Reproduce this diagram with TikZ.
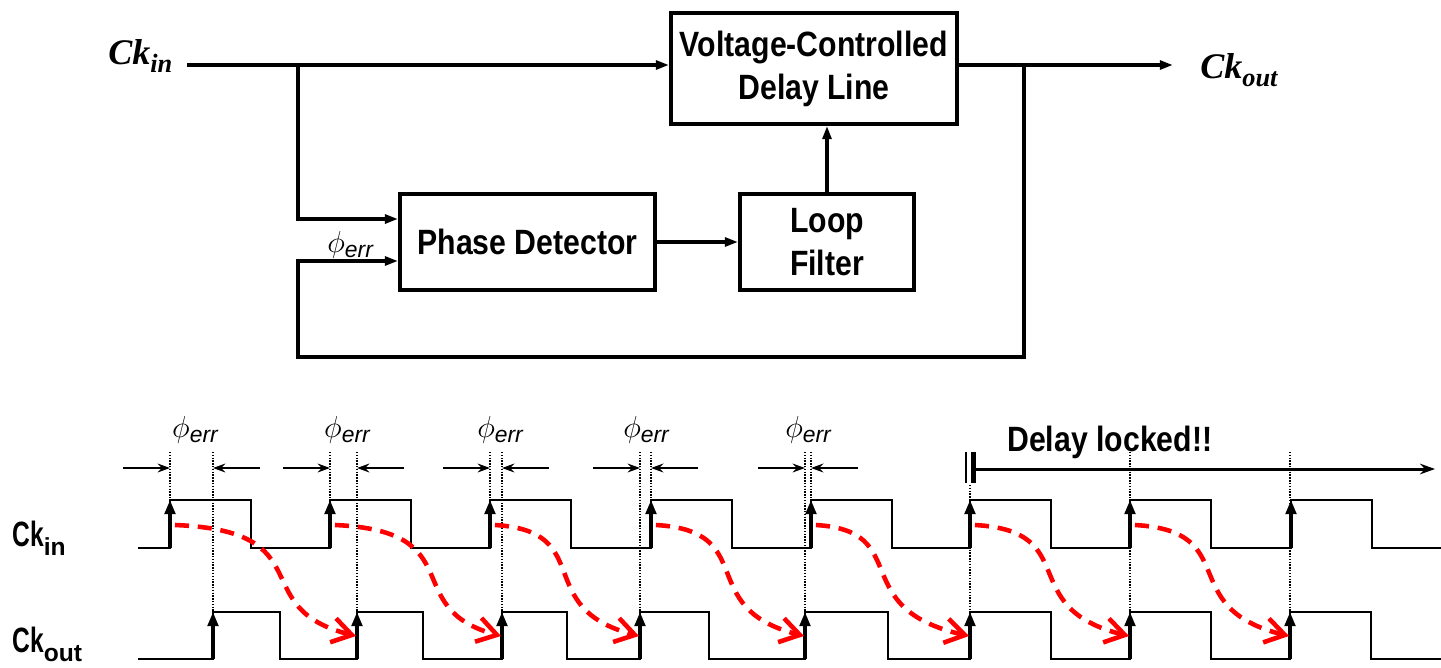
\documentclass[tikz,border=0pt]{standalone}
\usepackage{fontspec}
\usepackage{tikz}
\usetikzlibrary{arrows.meta,positioning,calc}

\newfontfamily\blockfont[FakeStretch=0.86]{Liberation Sans}
\newfontfamily\narrowfont[FakeStretch=0.7]{Liberation Sans}
\newfontfamily\plainsans{Liberation Sans}
\newfontfamily\ckfont{Liberation Serif}

\newcommand{\phierr}{{\fontsize{17.28}{18}\selectfont$\phi$}\raisebox{-3.4pt}{\plainsans\itshape\fontsize{13}{13}\selectfont err}}
\newcommand{\ckserif}[1]{{\ckfont\bfseries\itshape\fontsize{20.5}{22}\selectfont Ck\raisebox{-5pt}{\fontsize{15}{15}\selectfont #1}}}
\newcommand{\cksans}[1]{{\narrowfont\bfseries\fontsize{20}{22}\selectfont Ck\raisebox{-5.5pt}{\plainsans\bfseries\fontsize{14}{14}\selectfont #1}}}

\begin{document}
\begin{tikzpicture}[
    x=0.02cm, y=-0.02cm,
    blk/.style={draw, line width=2.2pt, align=center, inner sep=0pt, font=\blockfont\bfseries\fontsize{20}{24.5}\selectfont},
    arr/.style={-{Triangle[length=7.5pt,width=5pt]}, line width=2pt},
    wave/.style={line width=1.1pt},
    risearr/.style={-{Triangle[length=8pt,width=6pt]}, line width=1.8pt},
    dimarr/.style={-{Stealth[length=7pt,width=5pt]}, line width=1.1pt},
    vguide/.style={line width=0.6pt, dash pattern=on 0.8pt off 0.8pt},
    lagarr/.style={red, line width=2.6pt, dash pattern=on 8pt off 5pt, -{Straight Barb[length=11pt,width=14pt]}},
    lbl/.style={inner sep=0pt}
]
\useasboundingbox (0,0) rectangle (1441,667);

% block diagram
\node[blk, minimum width=5.72cm, minimum height=2.22cm] (vcdl) at (814,68.5) {Voltage-Controlled\\Delay Line};
\node[blk, minimum width=5.1cm, minimum height=1.92cm] (pd) at (527.5,242) {Phase Detector};
\node[blk, minimum width=3.48cm, minimum height=1.92cm] (lf) at (827,242) {Loop\\Filter};

\coordinate (inL) at (187,65);
\coordinate (inJ) at (298,65);
\coordinate (outJ) at (1024,65);
\coordinate (outR) at (1173,65);
\coordinate (fbR) at (1024,357);
\coordinate (fbL) at (298,357);

\node[lbl, anchor=base west] (ckin) at (108,64) {\ckserif{in}};
\node[lbl, anchor=base west] (ckout) at (1200,78) {\ckserif{out}};
\node[lbl, anchor=base west] (perrtop) at (327,252) {\phierr};

\draw[arr] (inL) -- (inL -| vcdl.west);
\draw[arr] (inJ) |- ([yshift=0.46cm]pd.west);
\draw[arr] (vcdl.east |- outR) -- (outR);
\draw[arr] (outJ) -- (fbR) -- (fbL) |- ([yshift=-0.38cm]pd.west);
\draw[arr] (pd.east) -- (lf.west);
\draw[arr] (lf.north) -- (lf.north |- vcdl.south);

% timing diagram
\node[lbl, anchor=base west] (wvin) at (12,546) {\cksans{in}};
\node[lbl, anchor=base west] (wvout) at (12,652) {\cksans{out}};

\draw[wave] (138,548) \foreach \r in {170,330,490,651,811,970,1130,1291}
  { -- (\r,548) -- (\r,500) -- ({\r+81},500) -- ({\r+81},548) } -- (1441,548);
\draw[wave] (138,659) \foreach \r/\f in {213/280,357/423,502/567,640/709,805/888,970/1051,1130/1211,1290/1371}
  { -- (\r,659) -- (\r,612) -- (\f,612) -- (\f,659) } -- (1441,659);

\foreach \r in {170,330,490,651,811,970,1130,1291}
  \draw[risearr] (\r,548) -- (\r,500);
\foreach \r in {213,357,502,640,805,970,1130,1290}
  \draw[risearr] (\r,659) -- (\r,612);

% phase error marks
\foreach \r in {170,330,490,651,811}
  \draw[vguide] (\r,452) -- (\r,500);
\foreach \r in {213,357,502,640,805,1130,1290}
  \draw[vguide] (\r,452) -- (\r,612);
\draw[vguide] (970,485) -- (970,612);

\foreach \a/\b in {170/213,330/357,490/502,640/651,805/811} {
  \draw[dimarr] ({\a-47},468) -- (\a,468);
  \draw[dimarr] ({\b+47},468) -- (\b,468);
}
\foreach \c [count=\i] in {195,347,500,646,808}
  \node[lbl, anchor=base] (perr\i) at (\c,437) {\phierr};

% locked
\coordinate (lockL) at (973,469);
\coordinate (lockR) at (1435,469);
\draw[line width=1.3pt] (966,452) -- (966,483);
\draw[line width=3.4pt] (973.5,452) -- (973.5,483);
\draw[-{Stealth[length=8.5pt,width=6pt]}, line width=1.7pt] (lockL) -- (lockR);
\node[lbl, anchor=base west, font=\blockfont\bfseries\fontsize{20}{24}\selectfont] (locked) at (1007,451) {Delay locked!!};

% propagation through the delay line
\foreach \s/\e/\k in {170/357/0.8,330/502/0.8,490/640/0.68,651/805/0.68,811/970/0.62,970/1130/0.68,1130/1290/0.68} {
  \pgfmathsetmacro\dd{\e-\s}
  \draw[lagarr] ({\s+5},525) .. controls +({\k*\dd},6) and +({-(1.4-\k)*\dd},-28) .. ({\e-1},636);
}
\end{tikzpicture}
\end{document}
